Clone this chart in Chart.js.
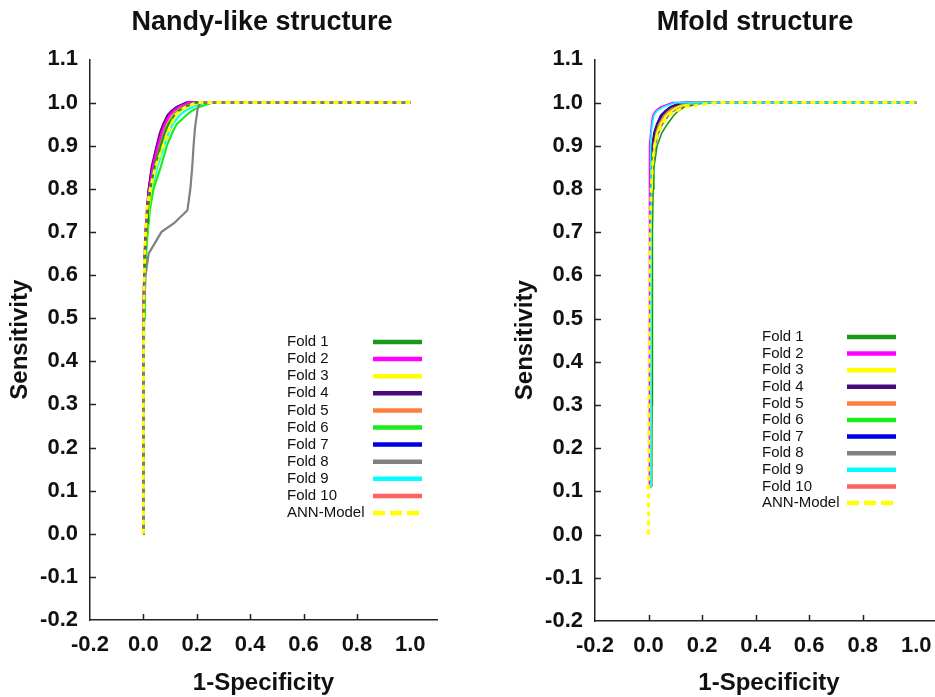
<!DOCTYPE html>
<html>
<head>
<meta charset="utf-8">
<script src="https://cdn.jsdelivr.net/npm/chart.js@4.4.1/dist/chart.umd.min.js"></script>
<style>
  html, body { margin: 0; padding: 0; background: #fff; overflow: hidden; }
  body { width: 935px; height: 697px; position: relative; }
  canvas { position: absolute; top: 0; }
  #nandy { left: 0; }
  #mfold { left: 505px; }
</style>
</head>
<body>
<canvas id="nandy" width="524" height="697"></canvas>
<canvas id="mfold" width="500" height="697"></canvas>
<script>
// tick labels
const xTicks = [-0.2, 0.0, 0.2, 0.4, 0.6, 0.8, 1.0];
const yTicks = [-0.2, -0.1, 0.0, 0.1, 0.2, 0.3, 0.4, 0.5, 0.6, 0.7, 0.8, 0.9, 1.0, 1.1];

const seriesNames = ["Fold 1", "Fold 2", "Fold 3", "Fold 4", "Fold 5", "Fold 6",
                     "Fold 7", "Fold 8", "Fold 9", "Fold 10", "ANN-Model"];
const seriesColors = ["#189a18", "#ff00ff", "#ffff00", "#4b0a7a", "#ff7f3f", "#1aee1a",
                      "#0000e6", "#808080", "#00ffff", "#ff6262", "#ffff00"];

// Nandy-like structure: sensitivity levels, and 1-specificity of each curve at those levels
const nandyTpr = [0, 0.3, 0.5, 0.6, 0.65, 0.7, 0.72, 0.75, 0.8, 0.85, 0.9, 0.93, 0.95, 0.97, 0.98, 0.99, 1.0, 1.0];
const nandyFold1  = [0, 0, 0.002, 0.005, 0.008, 0.012, 0.014, 0.017, 0.026, 0.042, 0.065, 0.08, 0.094, 0.115, 0.13, 0.155, 0.2, 1];
const nandyFold2  = [0, 0, 0.001, 0.003, 0.006, 0.009, 0.011, 0.014, 0.022, 0.035, 0.054, 0.068, 0.08, 0.097, 0.112, 0.132, 0.17, 1];
const nandyFold3  = [0, 0, 0.002, 0.005, 0.008, 0.013, 0.016, 0.019, 0.029, 0.046, 0.07, 0.086, 0.1, 0.122, 0.138, 0.165, 0.21, 1];
const nandyFold4  = [0, 0, 0.001, 0.003, 0.005, 0.008, 0.01, 0.013, 0.02, 0.032, 0.05, 0.063, 0.075, 0.09, 0.105, 0.125, 0.16, 1];
const nandyFold5  = [0, 0, 0.001, 0.004, 0.006, 0.01, 0.012, 0.015, 0.024, 0.038, 0.058, 0.072, 0.085, 0.103, 0.118, 0.14, 0.18, 1];
const nandyFold6  = [0, 0, 0.003, 0.006, 0.01, 0.016, 0.02, 0.024, 0.038, 0.065, 0.088, 0.108, 0.125, 0.16, 0.18, 0.21, 0.26, 1];
const nandyFold7  = [0, 0, 0.001, 0.003, 0.005, 0.009, 0.011, 0.014, 0.021, 0.033, 0.052, 0.065, 0.077, 0.093, 0.108, 0.128, 0.165, 1];
const nandyFold8  = [0, 0, 0.002, 0.008, 0.02, 0.068, 0.115, 0.165, 0.176, 0.183, 0.188, 0.192, 0.195, 0.2, 0.202, 0.205, 0.215, 1];
const nandyFold9  = [0, 0, 0.002, 0.005, 0.009, 0.014, 0.017, 0.021, 0.033, 0.052, 0.078, 0.095, 0.11, 0.135, 0.155, 0.185, 0.23, 1];
const nandyFold10 = [0, 0, 0.001, 0.003, 0.006, 0.01, 0.012, 0.014, 0.02, 0.03, 0.05, 0.062, 0.074, 0.092, 0.106, 0.127, 0.165, 1];
const nandyAnn    = [0, 0, 0.001, 0.003, 0.005, 0.008, 0.01, 0.012, 0.026, 0.045, 0.075, 0.092, 0.105, 0.12, 0.135, 0.16, 0.2, 1];

// Mfold structure (fold curves start around 0.11 sensitivity)
const mfoldTpr = [0, 0.11, 0.3, 0.5, 0.7, 0.8, 0.85, 0.9, 0.93, 0.95, 0.97, 0.98, 0.99, 1.0, 1.0];
const mfoldFold1  = [null, 0.012, 0.013, 0.014, 0.015, 0.017, 0.02, 0.032, 0.05, 0.07, 0.094, 0.11, 0.135, 0.21, 1];
const mfoldFold2  = [null, 0.003, 0.003, 0.003, 0.003, 0.004, 0.004, 0.005, 0.008, 0.011, 0.016, 0.025, 0.045, 0.09, 1];
const mfoldFold3  = [null, 0.006, 0.007, 0.008, 0.01, 0.013, 0.016, 0.022, 0.032, 0.045, 0.065, 0.085, 0.11, 0.17, 1];
const mfoldFold4  = [null, 0.004, 0.004, 0.005, 0.006, 0.008, 0.01, 0.014, 0.022, 0.032, 0.05, 0.065, 0.085, 0.13, 1];
const mfoldFold5  = [null, 0.005, 0.005, 0.006, 0.008, 0.01, 0.013, 0.018, 0.028, 0.04, 0.058, 0.075, 0.1, 0.15, 1];
const mfoldFold6  = [null, 0.004, 0.005, 0.006, 0.007, 0.01, 0.012, 0.016, 0.025, 0.036, 0.055, 0.07, 0.095, 0.14, 1];
const mfoldFold7  = [null, 0.004, 0.004, 0.005, 0.006, 0.008, 0.01, 0.013, 0.02, 0.03, 0.045, 0.06, 0.08, 0.12, 1];
const mfoldFold8  = [null, 0.008, 0.009, 0.01, 0.012, 0.015, 0.018, 0.025, 0.038, 0.052, 0.075, 0.092, 0.12, 0.18, 1];
const mfoldFold9  = [null, 0.01, 0.01, 0.01, 0.01, 0.01, 0.009, 0.008, 0.01, 0.014, 0.02, 0.03, 0.055, 0.1, 1];
const mfoldFold10 = [null, 0.005, 0.005, 0.006, 0.007, 0.009, 0.011, 0.015, 0.024, 0.035, 0.052, 0.068, 0.09, 0.14, 1];
const mfoldAnn    = [0, 0, 0.001, 0.003, 0.006, 0.01, 0.014, 0.022, 0.035, 0.05, 0.075, 0.1, 0.14, 0.25, 1];

const FONT = "'Liberation Sans', Arial, Helvetica, sans-serif";

const innerTicks = {
  id: "innerTicks",
  afterDraw(chart) {
    const { ctx, scales: { x, y } } = chart;
    ctx.save();
    ctx.strokeStyle = "#222";
    ctx.lineWidth = 1.5;
    ctx.beginPath();
    x.ticks.slice(1, -1).forEach((t) => {
      const px = Math.round(x.getPixelForValue(t.value)) + 0.5;
      ctx.moveTo(px, y.bottom);
      ctx.lineTo(px, y.bottom - 6);
    });
    y.ticks.slice(1, -1).forEach((t) => {
      const py = Math.round(y.getPixelForValue(t.value)) + 0.5;
      ctx.moveTo(x.left, py);
      ctx.lineTo(x.left + 6, py);
    });
    ctx.stroke();
    ctx.restore();
  },
};

const foldLegend = {
  id: "foldLegend",
  afterDraw(chart, args, opts) {
    const ctx = chart.ctx;
    ctx.save();
    ctx.font = "15px " + FONT;
    ctx.textBaseline = "middle";
    ctx.textAlign = "left";
    chart.data.datasets.forEach((ds, i) => {
      const yy = opts.y + i * opts.row;
      ctx.fillStyle = "#111";
      ctx.fillText(ds.label, opts.x, yy);
      ctx.strokeStyle = ds.borderColor;
      ctx.lineWidth = 4.5;
      ctx.setLineDash(ds.borderDash ? [12, 5] : []);
      ctx.beginPath();
      ctx.moveTo(opts.x1, yy);
      ctx.lineTo(opts.x2, yy);
      ctx.stroke();
    });
    ctx.restore();
  },
};

function makeDatasets(tpr, folds, ann, width, topFold) {
  const all = folds.concat([ann]);
  return all.map((fpr, i) => {
    const isAnn = i === all.length - 1;
    return {
      label: seriesNames[i],
      data: fpr.map((v, k) => ({ x: v, y: tpr[k] })),
      borderColor: seriesColors[i],
      borderWidth: isAnn ? 3 : width,
      borderDash: isAnn ? [5, 4] : undefined,
      showLine: true,
      pointRadius: 0,
      tension: 0,
      order: isAnn ? -2 : (i === topFold ? -1 : 0),
    };
  });
}

function makeChart(id, titleText, datasets, xHeight, padRight, legend) {
  return new Chart(document.getElementById(id), {
    type: "scatter",
    data: { datasets: datasets },
    plugins: [innerTicks, foldLegend],
    options: {
      responsive: false,
      animation: false,
      plugins: {
        legend: { display: false },
        tooltip: { enabled: false },
        title: {
          display: true,
          text: titleText,
          color: "#111",
          font: { family: FONT, size: 27, weight: "bold" },
          padding: { top: 6, bottom: 21 },
        },
        foldLegend: legend,
      },
      scales: {
        x: {
          type: "linear",
          min: -0.2,
          max: 1.1,
          afterBuildTicks: (s) => { s.ticks = xTicks.map((v) => ({ value: v })); },
          afterFit: (s) => { s.height = xHeight; },
          grid: { display: true, drawOnChartArea: false, drawTicks: false },
          border: { display: true, color: "#222", width: 1.5 },
          ticks: {
            color: "#111",
            padding: 12,
            maxRotation: 0,
            font: { family: FONT, size: 22, weight: "bold" },
            callback: (v) => Number(v).toFixed(1),
          },
          title: {
            display: true,
            text: "1-Specificity",
            color: "#111",
            font: { family: FONT, size: 24, weight: "bold" },
            padding: { top: 0, bottom: -1 },
          },
        },
        y: {
          type: "linear",
          min: -0.2,
          max: 1.1,
          afterBuildTicks: (s) => { s.ticks = yTicks.map((v) => ({ value: v })); },
          afterFit: (s) => { s.width = 90; },
          grid: { display: true, drawOnChartArea: false, drawTicks: false },
          border: { display: true, color: "#222", width: 1.5 },
          ticks: {
            color: "#111",
            padding: 12,
            font: { family: FONT, size: 22, weight: "bold" },
            callback: (v) => Number(v).toFixed(1),
          },
          title: {
            display: true,
            text: "Sensitivity",
            color: "#111",
            font: { family: FONT, size: 24, weight: "bold" },
            padding: { top: 6, bottom: 0 },
          },
        },
        // empty right-hand strip so the title stays centred on the whole panel
        yRight: {
          type: "linear",
          position: "right",
          display: true,
          afterFit: (s) => { s.width = padRight; },
          grid: { display: false },
          border: { display: false },
          ticks: { display: false },
        },
      },
    },
  });
}

makeChart(
  "nandy",
  "Nandy-like structure",
  makeDatasets(nandyTpr,
    [nandyFold1, nandyFold2, nandyFold3, nandyFold4, nandyFold5,
     nandyFold6, nandyFold7, nandyFold8, nandyFold9, nandyFold10],
    nandyAnn, 2.2, 7),
  77, 87,
  { x: 287, y: 342, row: 17.1, x1: 373, x2: 422 }
);

makeChart(
  "mfold",
  "Mfold structure",
  makeDatasets(mfoldTpr,
    [mfoldFold1, mfoldFold2, mfoldFold3, mfoldFold4, mfoldFold5,
     mfoldFold6, mfoldFold7, mfoldFold8, mfoldFold9, mfoldFold10],
    mfoldAnn, 1.6, 8),
  76, 62,
  { x: 257, y: 337, row: 16.6, x1: 342, x2: 391 }
);
</script>
</body>
</html>
